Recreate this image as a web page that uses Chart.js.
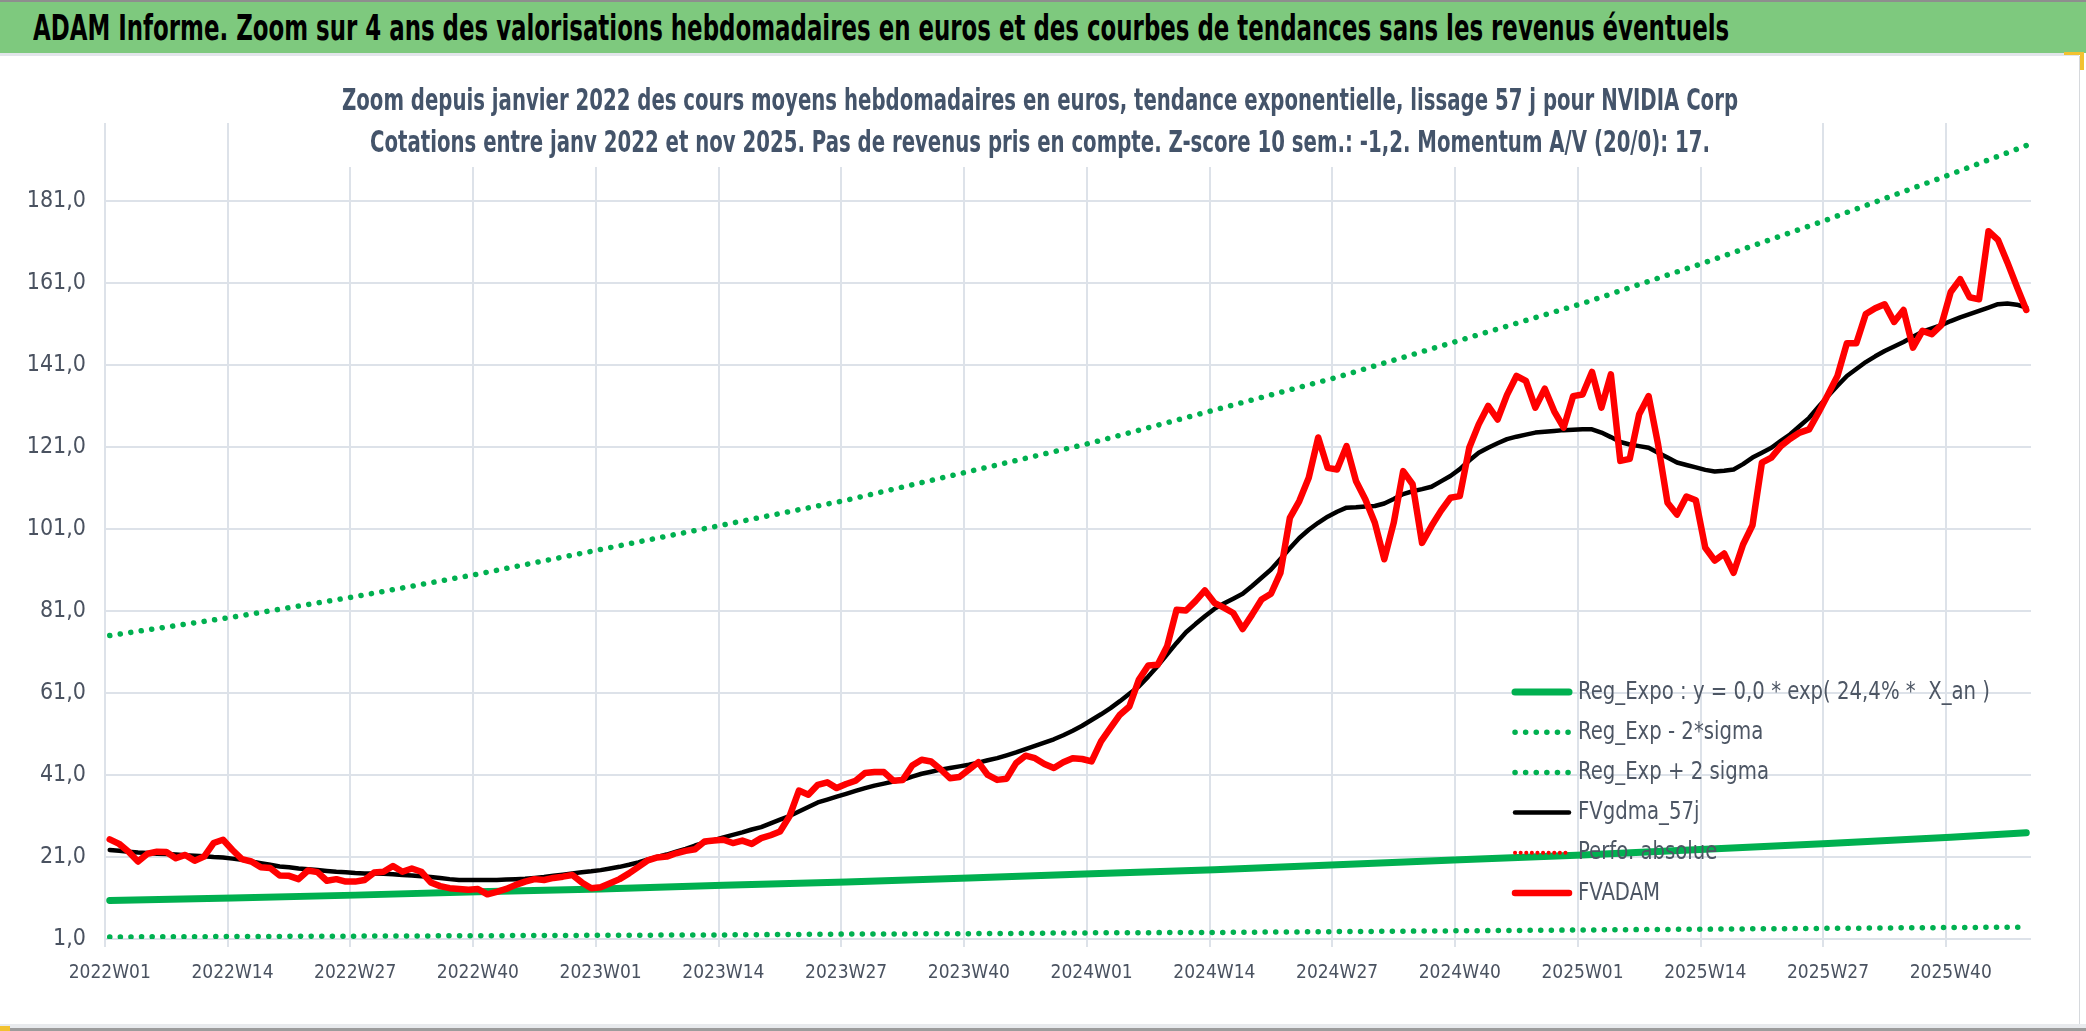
<!DOCTYPE html>
<html>
<head>
<meta charset="utf-8">
<script src="https://cdn.jsdelivr.net/npm/chart.js@4.4.1/dist/chart.umd.min.js"></script>
<style>
  body { margin: 0; width: 2086px; height: 1031px; position: relative; overflow: hidden; background: #fff; }
  #hdr { position: absolute; left: 0; top: 0; width: 2086px; height: 51px; background: #7ec97e; border-top: 2px solid #8e8e8e; }
  #hdr span { position: absolute; left: 33px; top: 5px; font: bold 36px 'Liberation Sans Narrow', 'DejaVu Sans Condensed', sans-serif; color: #000; white-space: nowrap; transform-origin: 0 0; }
  #sep { position: absolute; left: 0; top: 53px; width: 2079px; height: 3px; background: #e2e5ea; }
  #box { position: absolute; left: 0; top: 56px; width: 2079px; height: 968px; border-right: 1px solid #d6d9dd; }
  #foot1 { position: absolute; left: 0; top: 1024px; width: 2086px; height: 4px; background: #e8eaed; }
  #foot2 { position: absolute; left: 0; top: 1028px; width: 2086px; height: 3px; background: #9c9c9c; }
  .mark { position: absolute; background: #f2c230; }
</style>
</head>
<body>
<div id="hdr"><span id="hdrText">ADAM Informe. Zoom sur 4 ans des valorisations hebdomadaires en euros et des courbes de tendances sans les revenus éventuels</span></div>
<div id="sep"></div>
<div id="box"><canvas id="chart" width="2079" height="968"></canvas></div>
<div id="foot1"></div>
<div id="foot2"></div>
<div class="mark" style="left:2064px;top:52px;width:18px;height:3px"></div>
<div class="mark" style="left:2080px;top:52px;width:4px;height:18px"></div>
<div class="mark" style="left:0;top:1026px;width:10px;height:5px"></div>

<script>
// week categories 2022W01 .. 2025W48
const years = [2022, 2023, 2024, 2025];
const weekLabels = [];
years.forEach(y => {
  for (let w = 1; w <= 52; w++) weekLabels.push(y + 'W' + String(w).padStart(2, '0'));
});
weekLabels.length = 204;

const yTicks = [1, 21, 41, 61, 81, 101, 121, 141, 161, 181];

const titleLines = [
  'Zoom depuis janvier 2022 des cours moyens hebdomadaires en euros, tendance exponentielle, lissage 57 j pour NVIDIA Corp',
  'Cotations entre janv 2022 et nov 2025. Pas de revenus pris en compte. Z-score 10 sem.: -1,2. Momentum A/V (20/0): 17.'
];

// weekly average price (red)
const fvadam = [
  25.3, 24.2, 22.3, 19.9, 21.8, 22.3, 22.2, 20.7, 21.5, 20.1,
  21.1, 24.4, 25.2, 22.7, 20.5, 19.9, 18.5, 18.3, 16.5, 16.4,
  15.6, 17.7, 17.3, 15.2, 15.6, 15.0, 15.0, 15.4, 17.2, 17.4,
  18.8, 17.4, 18.2, 17.4, 14.8, 13.9, 13.4, 13.2, 13.0, 13.2,
  11.9, 12.5, 13.2, 14.2, 15.0, 15.6, 15.4, 15.9, 16.2, 16.6,
  14.8, 13.4, 13.6, 14.6, 15.6, 17.0, 18.6, 20.2, 20.9, 21.1,
  21.9, 22.5, 22.9, 24.8, 25.0, 25.2, 24.4, 25.0, 24.2, 25.6,
  26.3, 27.2, 30.9, 37.2, 36.2, 38.6, 39.2, 37.8, 38.8, 39.6,
  41.5, 41.7, 41.7, 39.6, 39.8, 43.3, 44.7, 44.3, 42.4, 40.2,
  40.5, 42.3, 44.1, 41.0, 39.8, 40.1, 43.9, 45.7, 45.1, 43.7,
  42.7, 44.1, 45.1, 44.9, 44.3, 49.2, 52.5, 55.7, 57.7, 64.2,
  67.7, 67.9, 72.4, 81.3, 81.1, 83.4, 86.0, 83.0, 81.8, 80.5,
  76.6, 80.1, 83.8, 85.2, 90.3, 103.7, 107.8, 113.5, 123.3, 115.9,
  115.5, 121.2, 112.7, 108.2, 102.5, 93.6, 102.5, 115.1, 111.9, 97.6,
  101.7, 105.4, 108.6, 109.0, 120.8, 126.5, 131.0, 127.7, 133.7, 138.3,
  137.1, 130.6, 135.2, 129.7, 125.7, 133.4, 133.8, 139.3, 130.6, 138.7,
  117.6, 118.1, 129.0, 133.4, 121.6, 107.4, 104.5, 108.9, 108.0, 96.4,
  93.3, 95.0, 90.3, 97.2, 101.9, 117.2, 118.4, 121.2, 123.0, 124.5,
  125.3, 129.4, 133.8, 138.3, 146.3, 146.3, 153.4, 154.8, 155.8, 151.5,
  154.4, 145.2, 149.3, 148.5, 150.7, 158.8, 161.9, 157.5, 157.0, 173.6,
  171.5, 166.0, 160.1, 154.4
];

// 57 day smoothing (black)
const fvgdma57 = [
  22.7, 22.5, 22.3, 22.1, 22.0, 21.8, 21.7, 21.6, 21.4, 21.3,
  21.2, 21.0, 20.9, 20.6, 20.3, 19.9, 19.5, 19.1, 18.7, 18.5,
  18.2, 18.0, 17.8, 17.6, 17.4, 17.3, 17.1, 17.0, 17.0, 16.9,
  16.8, 16.6, 16.5, 16.3, 16.1, 15.9, 15.6, 15.4, 15.4, 15.4,
  15.4, 15.4, 15.5, 15.6, 15.7, 15.9, 16.1, 16.4, 16.7, 17.0,
  17.3, 17.5, 17.8, 18.2, 18.6, 19.1, 19.7, 20.4, 21.0, 21.6,
  22.3, 23.0, 23.8, 24.5, 25.1, 25.8, 26.4, 27.0, 27.7, 28.3,
  29.2, 30.1, 31.0, 32.1, 33.2, 34.3, 35.0, 35.7, 36.4, 37.1,
  37.8, 38.4, 38.9, 39.4, 39.8, 40.6, 41.3, 41.8, 42.3, 42.7,
  43.1, 43.5, 44.0, 44.6, 45.1, 45.8, 46.5, 47.3, 48.1, 48.9,
  49.7, 50.7, 51.8, 53.0, 54.4, 55.8, 57.3, 59.0, 60.8, 62.6,
  65.0, 67.6, 70.4, 73.2, 75.8, 77.8, 79.7, 81.5, 82.8, 84.0,
  85.2, 87.1, 89.1, 91.1, 93.7, 96.3, 98.8, 100.8, 102.5, 104.0,
  105.2, 106.2, 106.3, 106.5, 106.6, 107.2, 108.3, 109.5, 110.2, 110.7,
  111.3, 112.6, 113.9, 115.6, 117.7, 119.6, 120.8, 121.9, 122.9, 123.5,
  124.0, 124.5, 124.7, 124.9, 125.1, 125.2, 125.3, 125.3, 124.5, 123.4,
  122.2, 121.6, 121.2, 120.8, 119.6, 118.4, 117.2, 116.6, 116.0, 115.4,
  115.0, 115.2, 115.5, 116.8, 118.4, 119.6, 120.8, 122.5, 124.1, 126.1,
  128.1, 130.8, 133.4, 135.9, 138.3, 140.0, 141.7, 143.1, 144.4, 145.5,
  146.6, 147.9, 149.1, 149.9, 150.7, 151.7, 152.6, 153.4, 154.2, 155.0,
  155.8, 156.0, 155.7, 155.0
];

// trend curves, read every 13 weeks
const trendWeeks = ['2022W01', '2022W14', '2022W27', '2022W40', '2023W01', '2023W14', '2023W27', '2023W40',
  '2024W01', '2024W14', '2024W27', '2024W40', '2025W01', '2025W14', '2025W27', '2025W40', '2025W48'];
const regExpo     = [10.4, 11.0, 11.7, 12.5, 13.2, 14.1, 14.9, 15.9, 16.9, 17.9, 19.1, 20.3, 21.5, 22.9, 24.3, 25.8, 26.9];
const regExpMinus = [1.5, 1.6, 1.7, 1.8, 1.9, 2.0, 2.2, 2.3, 2.5, 2.6, 2.8, 3.0, 3.2, 3.4, 3.6, 3.8, 3.9];
const regExpPlus  = [75.0, 79.5, 84.5, 90.0, 96.0, 102.0, 108.0, 115.0, 122.0, 130.0, 138.0, 147.0, 156.0, 166.0, 176.5, 187.5, 194.5];
const perfoAbsolue = [];

const FONT = "'Liberation Sans Narrow', 'DejaVu Sans Condensed', sans-serif";
const GRID = '#dde2e9';
const TICK = '#4a5260';

const trendPoints = vals => trendWeeks.map((w, k) => ({ x: w, y: vals[k] }));

// header text squeezed to the width of the original
const hdr = document.getElementById('hdrText');
hdr.style.transform = 'scaleX(' + (1696 / hdr.offsetWidth) + ')';

// title drawn over the plot with a white box behind it
const overlayTitle = {
  id: 'overlayTitle',
  afterDraw(chart) {
    const ctx = chart.ctx;
    const cx = 1040, w = 1396;
    ctx.save();
    ctx.font = 'bold 30px ' + FONT;
    const sx = w / ctx.measureText(titleLines[0]).width;
    ctx.fillStyle = '#fff';
    ctx.fillRect(cx - w / 2 - 8, chart.chartArea.top, w + 16, 111 - chart.chartArea.top);
    ctx.fillStyle = '#44546a';
    ctx.textAlign = 'center';
    ctx.textBaseline = 'alphabetic';
    titleLines.forEach((t, k) => {
      ctx.save();
      ctx.translate(cx, 54 + 42 * k);
      ctx.scale(sx, 1);
      ctx.fillText(t, 0, 0);
      ctx.restore();
    });
    ctx.restore();
  }
};

// legend inside the plot, lower right
const insideLegend = {
  id: 'insideLegend',
  afterDatasetsDraw(chart) {
    const ctx = chart.ctx;
    const sets = chart.data.datasets;
    ctx.save();
    ctx.font = '25px ' + FONT;
    const sx = 412 / ctx.measureText(sets[0].label).width;
    sets.forEach((ds, k) => {
      const y = 636 + 40.2 * k;
      ctx.beginPath();
      ctx.strokeStyle = ds.borderColor;
      ctx.lineWidth = ds.borderWidth;
      ctx.setLineDash(ds.borderDash || []);
      ctx.lineCap = ds.borderCapStyle || 'round';
      ctx.moveTo(1515, y);
      ctx.lineTo(1569, y);
      ctx.stroke();
      ctx.setLineDash([]);
      ctx.fillStyle = '#4d5664';
      ctx.textAlign = 'left';
      ctx.textBaseline = 'middle';
      ctx.save();
      ctx.translate(1578, y);
      ctx.scale(sx, 1);
      ctx.fillText(ds.label, 0, 0);
      ctx.restore();
    });
    ctx.restore();
  }
};

new Chart(document.getElementById('chart'), {
  type: 'line',
  data: {
    labels: weekLabels,
    datasets: [
      { label: 'Reg_Expo : y = 0,0 * exp( 24,4% *  X_an )', data: trendPoints(regExpo),
        borderColor: '#00b050', borderWidth: 7, borderCapStyle: 'round', order: 6 },
      { label: 'Reg_Exp - 2*sigma', data: trendPoints(regExpMinus),
        borderColor: '#00b050', borderWidth: 5.5, borderDash: [0.1, 10.5], borderCapStyle: 'round', order: 5 },
      { label: 'Reg_Exp + 2 sigma', data: trendPoints(regExpPlus),
        borderColor: '#00b050', borderWidth: 5.5, borderDash: [0.1, 10.5], borderCapStyle: 'round', order: 4 },
      { label: 'FVgdma_57j', data: fvgdma57,
        borderColor: '#000000', borderWidth: 4.5, borderCapStyle: 'round', order: 3 },
      { label: 'Perfo. absolue', data: perfoAbsolue,
        borderColor: '#ff0000', borderWidth: 4, borderDash: [0.1, 5.5], borderCapStyle: 'round', order: 2 },
      { label: 'FVADAM', data: fvadam,
        borderColor: '#ff0000', borderWidth: 6.5, borderCapStyle: 'round', order: 1 }
    ]
  },
  options: {
    responsive: false,
    animation: false,
    layout: { padding: { left: 0, top: 67, right: 48, bottom: 0 } },
    elements: {
      point: { radius: 0, hoverRadius: 0 },
      line: { tension: 0, fill: false, borderJoinStyle: 'round' }
    },
    plugins: {
      legend: { display: false },
      title: { display: false },
      tooltip: { enabled: false }
    },
    scales: {
      x: {
        type: 'category',
        offset: true,
        border: { display: false },
        grid: {
          offset: true,
          lineWidth: 2,
          tickLength: 8,
          color: c => (c.index % 13 === 0 ? GRID : 'rgba(0,0,0,0)')
        },
        ticks: {
          autoSkip: false,
          maxRotation: 0,
          minRotation: 0,
          padding: 15,
          color: TICK,
          font: { family: FONT, size: 19 },
          callback: (v, i) => (i % 13 === 0 ? weekLabels[i] : '')
        },
        afterFit: s => { s.height = 85; }
      },
      y: {
        min: 1,
        max: 200,
        border: { display: false },
        grid: { color: GRID, lineWidth: 2, drawTicks: false },
        afterBuildTicks: s => { s.ticks = yTicks.map(v => ({ value: v })); },
        ticks: {
          padding: 19,
          color: TICK,
          font: { family: FONT, size: 23 },
          callback: v => v.toFixed(1).replace('.', ',')
        },
        afterFit: s => { s.width = 105; }
      }
    }
  },
  plugins: [insideLegend, overlayTitle]
});
</script>
</body>
</html>
